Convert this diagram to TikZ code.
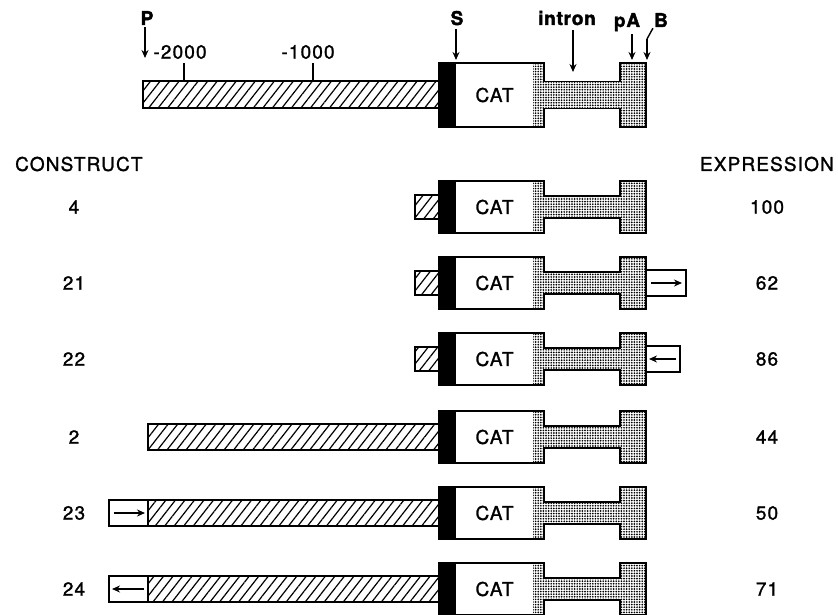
\documentclass[tikz,border=0pt]{standalone}
\usepackage{fontspec}
\setmainfont{TeX Gyre Heros}
\newfontfamily\labfont[FakeBold=1.3,LetterSpace=6]{TeX Gyre Heros}
\newfontfamily\tagfont[FakeBold=2,LetterSpace=4]{TeX Gyre Heros Bold}
\usetikzlibrary{arrows.meta,patterns.meta}
\tikzset{
  lab/.style={font=\fontsize{19}{22}\labfont, inner sep=0pt},
  tag/.style={font=\fontsize{19}{22}\tagfont, inner sep=0pt, anchor=base},
  arr/.style={line width=1.4pt, -{Stealth[length=8pt,width=7pt]}},
  hatch/.style={draw, line width=1.6pt,
    pattern={Lines[angle=52,distance=7.5pt,line width=1.2pt]}},
  stip/.style={pattern={Dots[distance=2.6pt,radius=0.95pt]}},
  pics/catgene/.style={code={
    \fill[black] (0,-26) rectangle (17,26);
    \fill[stip] (94,-26) -- (105,-26) -- (105,-11) -- (181,-11) -- (181,-26)
      -- (207,-26) -- (207,26) -- (181,26) -- (181,11) -- (105,11) -- (105,26)
      -- (94,26) -- cycle;
    \draw[line width=1.7pt] (0,-26) -- (105,-26) -- (105,-11) -- (181,-11)
      -- (181,-26) -- (207,-26) -- (207,26) -- (181,26) -- (181,11)
      -- (105,11) -- (105,26) -- (0,26) -- cycle;
    \node[lab] (-cat) at (55.5,0) {CAT};
  }}
}
\begin{document}
\begin{tikzpicture}[x=1pt,y=-1pt]
  \useasboundingbox (0,0) rectangle (838,615);
  % costrutto completo in alto
  \draw[hatch] (143,81) rectangle (439,108);
  \pic[yscale=1.23] (top) at (439,95) {catgene};
  \draw[line width=1.4pt] (184,63) -- (184,81) (313,63) -- (313,81);
  \node[lab] (m2) at (180,52) {-2000};
  \node[lab] (m1) at (308,52) {-1000};
  % etichette e frecce
  \node[tag] (P) at (147,25) {P};
  \node[tag] (S) at (457,25) {S};
  \node[tag] (intron) at (567,25) {intron};
  \node[tag] (pA) at (627,27) {pA};
  \node[tag] (B) at (661,27) {B};
  \coordinate (tipP) at (145,58);  \coordinate (tipS) at (456,60);
  \coordinate (tipI) at (573,72);  \coordinate (tipA) at (632,60);
  \coordinate (tipB) at (647,60);  \coordinate (bendB) at (647,39);
  \draw[arr] (P.south -| tipP) ++(0,2) -- (tipP);
  \draw[arr] (S.south -| tipS) ++(0,4) -- (tipS);
  \draw[arr] (intron.south -| tipI) ++(0,5) -- (tipI);
  \draw[arr] (pA.south -| tipA) ++(0,3) -- (tipA);
  \draw[line width=1.4pt] (B.south west) ++(-1,1) -- (bendB);
  \draw[arr] (bendB) -- (tipB);
  % intestazioni
  \node[lab, anchor=west] (construct) at (15,164) {CONSTRUCT};
  \node[lab, anchor=east] (expression) at (834,164) {EXPRESSION};
  % righe dei costrutti
  \foreach \n/\y/\e in {4/207/100, 21/283/62, 22/359/86, 2/437/44, 23/513/50, 24/589/71} {
    \pic (g\n) at (439,\y) {catgene};
    \node[lab] (c\n) at (74,\y) {\n};
    \node[lab] (e\n) at (767,\y) {\e};
  }
  \foreach \y in {207,283,359}
    \draw[hatch] (415,\y-12) rectangle (439,\y+12);
  \foreach \y in {437,513,589}
    \draw[hatch] (148,\y-13) rectangle (439,\y+13);
  % frecce di orientamento
  \draw[line width=1.6pt] (646,270) rectangle (686,296);
  \draw[line width=1.6pt] (646,346) rectangle (680,372);
  \draw[line width=1.6pt] (109,500) rectangle (148,526);
  \draw[line width=1.6pt] (109,576) rectangle (148,602);
  \coordinate (a21) at (651,283);  \coordinate (b21) at (682,283);
  \coordinate (a22) at (676,359);  \coordinate (b22) at (649,359);
  \coordinate (a23) at (114,513);  \coordinate (b23) at (145,513);
  \coordinate (a24) at (144,589);  \coordinate (b24) at (112,589);
  \foreach \r in {21,22,23,24}
    \draw[arr] (a\r) -- (b\r);
\end{tikzpicture}
\end{document}
